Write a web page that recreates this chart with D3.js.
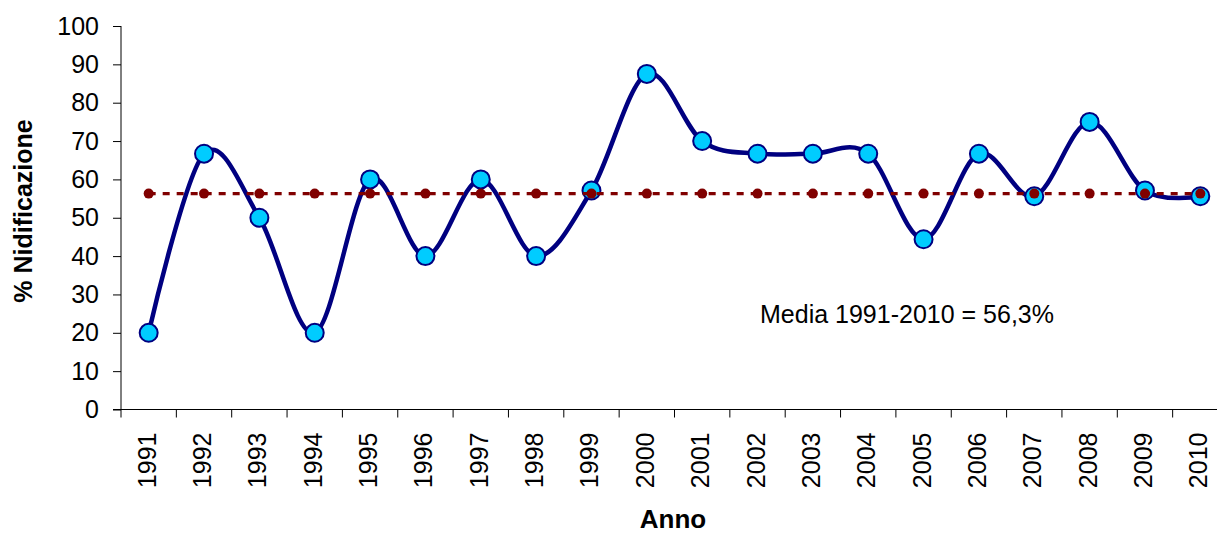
<!DOCTYPE html>
<html><head><meta charset="utf-8">
<script src="https://cdn.jsdelivr.net/npm/d3@7"></script>
<style>body{margin:0;background:#fff;} svg{display:block;font-family:"Liberation Sans",Arial,sans-serif;}</style>
</head><body><svg id="c" width="1217" height="533"></svg>
<script>
const years = ["1991","1992","1993","1994","1995","1996","1997","1998","1999","2000","2001","2002","2003","2004","2005","2006","2007","2008","2009","2010"];
const nidificazione = [20,66.7,50,20,60,40,60,40,57.1,87.5,70,66.7,66.7,66.7,44.4,66.7,55.6,75,57.1,55.6];
const media = [56.3,56.3,56.3,56.3,56.3,56.3,56.3,56.3,56.3,56.3,56.3,56.3,56.3,56.3,56.3,56.3,56.3,56.3,56.3,56.3];
const yTicks = [0,10,20,30,40,50,60,70,80,90,100];

const svg = d3.select("#c");
const x = d3.scaleBand().domain(years).range([121,1228]);
const y = d3.scaleLinear().domain([0,100]).range([409.5,26]);

// axes
const yAxis = svg.append("g").attr("transform","translate(121,0)")
  .call(d3.axisLeft(y).tickValues(yTicks).tickSize(8).tickPadding(14));
yAxis.selectAll("text").attr("font-size",25).attr("fill","#000").attr("font-family","Liberation Sans, Arial");
yAxis.selectAll("line,path").attr("stroke","#000");
yAxis.select(".domain").attr("d","M0,26V409.5");

const xg = svg.append("g").attr("transform","translate(0,409.5)");
xg.append("line").attr("x1",113).attr("x2",1228).attr("stroke","#000");
const bounds = years.map((d,i)=>x(d)).concat([x(years[years.length-1])+x.bandwidth()]);
xg.selectAll("line.t").data(bounds).enter().append("line").attr("class","t")
  .attr("x1",d=>d).attr("x2",d=>d).attr("y1",0).attr("y2",8).attr("stroke","#000");
xg.selectAll("text").data(years).enter().append("text")
  .attr("transform",d=>`translate(${x(d)+x.bandwidth()/2+7},23) rotate(-90)`)
  .attr("text-anchor","end").attr("font-size",25).attr("fill","#000").text(d=>d);

// titles
svg.append("text").attr("transform","translate(32,211) rotate(-90)").attr("text-anchor","middle")
  .attr("font-size",25).attr("font-weight","bold").text("% Nidificazione");
svg.append("text").attr("x",673).attr("y",528).attr("text-anchor","middle")
  .attr("font-size",26).attr("font-weight","bold").text("Anno");

const cx = d => x(d)+x.bandwidth()/2;

// main line
const line = d3.line().x((d,i)=>cx(years[i])).y(d=>y(d)).curve(d3.curveCardinal.tension(0));
svg.append("path").datum(nidificazione).attr("d",line).attr("fill","none")
  .attr("stroke","#000080").attr("stroke-width",4.5);
svg.selectAll("circle.m").data(nidificazione).enter().append("circle").attr("class","m")
  .attr("cx",(d,i)=>cx(years[i])).attr("cy",d=>y(d)).attr("r",9)
  .attr("fill","#00CCFF").attr("stroke","#000080").attr("stroke-width",2);

// mean line
const mline = d3.line().x((d,i)=>cx(years[i])).y(d=>y(d));
svg.append("path").datum(media).attr("d",mline).attr("fill","none")
  .attr("stroke","#800000").attr("stroke-width",3.2).attr("stroke-dasharray","7,7");
svg.selectAll("circle.a").data(media).enter().append("circle").attr("class","a")
  .attr("cx",(d,i)=>cx(years[i])).attr("cy",d=>y(d)).attr("r",5).attr("fill","#800000");

svg.append("text").attr("x",760).attr("y",323).attr("font-size",25).attr("fill","#000")
  .text("Media 1991-2010 = 56,3%");
</script></body></html>
